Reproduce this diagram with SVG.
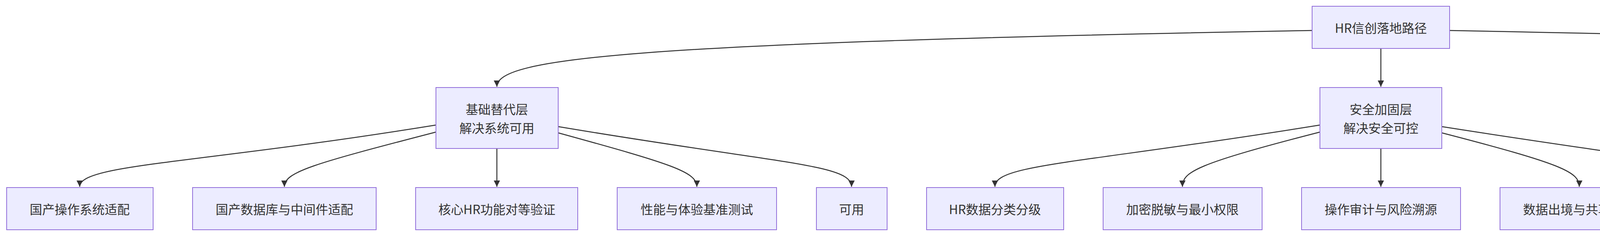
<svg xmlns="http://www.w3.org/2000/svg" width="7026" height="604" viewBox="0 0 7026 604">
<style>
.n rect{fill:#ECECFF;stroke:#9370DB;stroke-width:2}
.n text{font-family:"Noto Sans CJK SC","Liberation Sans",sans-serif;font-size:32px;fill:#333;text-anchor:middle;dominant-baseline:central}
.e path{fill:none;stroke:#333;stroke-width:2.5}
</style>
<defs><marker id="ah" viewBox="0 0 10 10" refX="10" refY="5" markerWidth="16" markerHeight="16" orient="auto" markerUnits="userSpaceOnUse"><path d="M0,0L10,5L0,10z" fill="#333"/></marker></defs>
<rect width="7026" height="604" fill="#fff"/>
<g class="e">
<path marker-end="url(#ah)" d="M3359,78 C1600,110 1272,150 1272,222"/>
<path marker-end="url(#ah)" d="M3535,124 L3535,222"/>
<path marker-end="url(#ah)" d="M3711,78 C5400,110 5855,150 5855,222"/>
<path marker-end="url(#ah)" d="M1116,320 C500,420 204,420 204,478"/>
<path marker-end="url(#ah)" d="M1116,338 C800,420 728,440 728,478"/>
<path marker-end="url(#ah)" d="M1272,380 L1272,478"/>
<path marker-end="url(#ah)" d="M1429,340 C1720,420 1784,440 1784,478"/>
<path marker-end="url(#ah)" d="M1429,324 C2000,420 2180,420 2180,478"/>
<path marker-end="url(#ah)" d="M3379,320 C2760,420 2547,420 2547,478"/>
<path marker-end="url(#ah)" d="M3379,338 C3060,420 3027,440 3027,478"/>
<path marker-end="url(#ah)" d="M3535,380 L3535,478"/>
<path marker-end="url(#ah)" d="M3691,340 C4000,420 4043,440 4043,478"/>
<path marker-end="url(#ah)" d="M3691,324 C4300,420 4440,420 4440,478"/>
<path marker-end="url(#ah)" d="M5699,320 C5050,420 4835,420 4835,478"/>
<path marker-end="url(#ah)" d="M5699,338 C5380,420 5328,440 5328,478"/>
<path marker-end="url(#ah)" d="M5855,380 L5855,478"/>
<path marker-end="url(#ah)" d="M6011,340 C6330,420 6414,440 6414,478"/>
<path marker-end="url(#ah)" d="M6011,324 C6600,420 6872,420 6872,478"/>
</g>
<g id="root" class="n"><rect x="3359" y="16" width="352" height="108"/><text x="3535" y="70">HR信创落地路径</text></g>
<g id="L1" class="n"><rect x="1116" y="224" width="313" height="156"/><text x="1272" y="278">基础替代层</text><text x="1272" y="326">解决系统可用</text></g>
<g id="L2" class="n"><rect x="3379" y="224" width="312" height="156"/><text x="3535" y="278">安全加固层</text><text x="3535" y="326">解决安全可控</text></g>
<g id="L3" class="n"><rect x="5699" y="224" width="312" height="156"/><text x="5855" y="278">治理升级层</text><text x="5855" y="326">解决长期可控</text></g>
<g id="a1" class="n"><rect x="17" y="480" width="375" height="108"/><text x="204" y="534">国产操作系统适配</text></g>
<g id="a2" class="n"><rect x="493" y="480" width="470" height="108"/><text x="728" y="534">国产数据库与中间件适配</text></g>
<g id="a3" class="n"><rect x="1064" y="480" width="415" height="108"/><text x="1272" y="534">核心HR功能对等验证</text></g>
<g id="a4" class="n"><rect x="1580" y="480" width="408" height="108"/><text x="1784" y="534">性能与体验基准测试</text></g>
<g id="a5" class="n"><rect x="2090" y="480" width="181" height="108"/><text x="2180" y="534">可用</text></g>
<g id="b1" class="n"><rect x="2372" y="480" width="351" height="108"/><text x="2547" y="534">HR数据分类分级</text></g>
<g id="b2" class="n"><rect x="2824" y="480" width="407" height="108"/><text x="3027" y="534">加密脱敏与最小权限</text></g>
<g id="b3" class="n"><rect x="3332" y="480" width="407" height="108"/><text x="3535" y="534">操作审计与风险溯源</text></g>
<g id="b4" class="n"><rect x="3840" y="480" width="407" height="108"/><text x="4043" y="534">数据出境与共享管控</text></g>
<g id="b5" class="n"><rect x="4348" y="480" width="183" height="108"/><text x="4440" y="534">可控</text></g>
<g id="c1" class="n"><rect x="4632" y="480" width="407" height="108"/><text x="4835" y="534">开放架构与标准接口</text></g>
<g id="c2" class="n"><rect x="5139" y="480" width="377" height="108"/><text x="5328" y="534">配置化与自主运维</text></g>
<g id="c3" class="n"><rect x="5615" y="480" width="479" height="108"/><text x="5855" y="534">HR数据中台与一体化治理</text></g>
<g id="c4" class="n"><rect x="6195" y="480" width="437" height="108"/><text x="6414" y="534">AI合规审查与风险预警</text></g>
<g id="c5" class="n"><rect x="6731" y="480" width="282" height="108"/><text x="6872" y="534">可持续演进</text></g>
</svg>
